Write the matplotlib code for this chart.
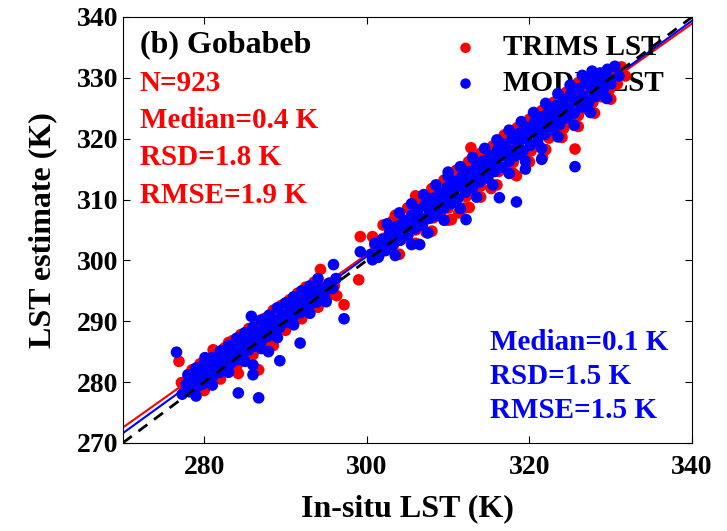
import numpy as np
from matplotlib import pyplot as plt

# Axis setup
x_ticks = [280, 300, 320, 340]
y_ticks = [270, 280, 290, 300, 310, 320, 330, 340]

# TRIMS LST points (in-situ, estimate)
trims_low = [
    (277.5, 279.5), (278.0, 280.5), (278.3, 279.2), (278.8, 281.0), (279.0, 280.0),
    (279.4, 281.5), (279.8, 280.6), (280.2, 282.3), (280.5, 281.0), (280.9, 282.8),
    (281.3, 281.8), (281.6, 283.5), (282.0, 282.4), (282.3, 284.0), (282.7, 282.9),
    (283.0, 284.8), (283.4, 283.6), (283.8, 285.5), (284.1, 284.2), (284.5, 286.2),
    (284.9, 285.0), (285.2, 286.9), (285.6, 285.8), (286.0, 287.6), (286.3, 286.4),
    (286.7, 288.3), (287.1, 287.1), (287.4, 289.0), (287.8, 287.9), (288.2, 289.7),
    (288.6, 288.6), (289.0, 290.5), (289.4, 289.4), (289.8, 291.3), (290.2, 290.2),
    (290.6, 292.0), (291.0, 291.0), (291.5, 292.8), (292.0, 291.8), (292.5, 293.8),
    (293.0, 292.6), (293.5, 294.6), (294.0, 293.5), (294.5, 295.5), (295.0, 294.6),
    (295.5, 296.3), (296.0, 295.8),
    (278.5, 282.0), (279.5, 283.0), (280.5, 283.8), (281.5, 284.6), (282.5, 285.6),
    (283.5, 286.8), (284.5, 287.8), (285.5, 288.8), (286.5, 289.6), (287.5, 290.5),
    (288.5, 291.8), (289.5, 292.6), (290.5, 293.5), (291.5, 294.6), (292.5, 295.6),
    (293.5, 296.4), (280.0, 278.6), (282.0, 280.5), (284.0, 282.6), (286.0, 284.5),
    (288.0, 286.4), (290.0, 288.5), (292.0, 290.4), (294.0, 292.3), (296.3, 294.2),
    (276.9, 283.4), (277.2, 279.9), (281.1, 285.3), (284.2, 281.4), (286.7, 282.0),
    (294.3, 298.5), (295.5, 294.4), (297.2, 292.7), (299.0, 296.8), (299.2, 303.9),
    (300.7, 303.9), (288.5, 286.0), (283.0, 286.5),
]
trims_high = [
    (301.0, 302.5), (301.5, 300.8), (302.0, 303.6), (302.4, 301.9), (302.9, 304.8),
    (303.3, 302.6), (303.8, 305.9), (304.2, 303.4), (304.7, 306.6), (305.1, 304.3),
    (305.6, 307.8), (306.0, 305.0), (306.4, 308.9), (306.9, 306.1), (307.3, 304.6),
    (307.8, 309.5), (308.2, 307.0), (308.7, 310.6), (309.1, 307.9), (309.6, 311.4),
    (310.0, 308.6), (310.4, 312.3), (310.9, 309.7), (311.3, 307.8), (311.8, 313.1),
    (312.2, 310.5), (312.7, 314.0), (313.1, 311.6), (313.6, 315.0), (314.0, 312.2),
    (314.4, 316.1), (314.9, 313.4), (315.3, 311.8), (315.8, 317.0), (316.2, 314.6),
    (316.7, 318.2), (317.1, 315.2), (317.6, 319.0), (318.0, 316.1), (318.4, 313.9),
    (318.9, 320.0), (319.3, 317.2), (319.8, 321.1), (320.2, 318.0), (320.7, 322.0),
    (321.1, 318.9), (321.6, 316.9), (322.0, 323.0), (322.4, 320.1), (322.9, 324.0),
    (323.3, 320.8), (323.8, 325.0), (324.2, 321.7), (324.7, 326.1), (325.1, 322.9),
    (325.6, 327.0), (326.0, 323.8), (326.5, 328.0), (326.9, 324.9), (327.4, 329.0),
    (327.8, 326.0), (328.3, 330.0), (328.8, 326.9), (329.3, 330.8), (329.8, 328.0),
    (330.3, 331.4), (330.8, 329.0), (331.3, 331.8),
    (302.0, 305.8), (303.5, 307.4), (305.0, 308.6), (306.5, 310.2), (308.0, 311.8),
    (309.5, 313.2), (311.0, 314.8), (312.5, 316.2), (314.0, 317.6), (315.5, 318.8),
    (317.0, 320.4), (318.5, 321.8), (320.0, 323.2), (321.5, 324.6), (323.0, 326.0),
    (324.5, 327.6), (326.0, 329.2), (304.0, 301.0), (306.0, 302.8), (308.0, 304.8),
    (310.0, 306.6), (312.0, 308.6), (314.0, 310.4), (316.0, 312.4), (318.0, 314.3),
    (320.0, 316.2), (322.0, 318.2), (324.0, 320.2), (326.0, 322.0), (328.0, 324.2),
    (330.0, 326.5),
    (303.2, 306.5), (306.0, 310.6), (310.4, 306.7), (312.6, 308.7), (312.8, 318.5),
    (316.9, 320.6), (325.6, 318.3), (331.8, 330.3), (327.7, 325.9),
]

# MODIS LST points
modis_low = [
    (277.3, 278.0), (277.8, 279.6), (278.2, 278.4), (278.6, 280.3), (279.0, 279.1),
    (279.3, 280.9), (279.7, 279.6), (280.0, 281.5), (280.4, 280.3), (280.8, 282.2),
    (281.1, 281.0), (281.5, 282.8), (281.9, 281.6), (282.2, 283.6), (282.6, 282.3),
    (283.0, 284.3), (283.3, 283.1), (283.7, 285.0), (284.1, 283.7), (284.4, 285.8),
    (284.8, 284.5), (285.2, 286.6), (285.5, 285.3), (285.9, 287.2), (286.3, 285.9),
    (286.6, 288.0), (287.0, 286.7), (287.4, 288.7), (287.8, 287.5), (288.1, 289.5),
    (288.5, 288.2), (288.9, 290.2), (289.3, 289.0), (289.7, 291.0), (290.1, 289.8),
    (290.5, 291.7), (290.9, 290.6), (291.3, 292.6), (291.8, 291.4), (292.3, 293.4),
    (292.8, 292.2), (293.3, 294.3), (293.8, 293.1), (294.3, 295.3), (294.8, 294.2),
    (295.3, 296.2), (295.8, 295.4), (296.2, 297.0),
    (278.0, 281.2), (279.0, 282.3), (280.0, 283.0), (281.0, 284.0), (282.0, 285.1),
    (283.0, 286.0), (284.0, 287.2), (285.0, 288.1), (286.0, 289.0), (287.0, 290.2),
    (288.0, 291.0), (289.0, 292.2), (290.0, 293.0), (291.0, 294.0), (292.0, 295.0),
    (293.0, 295.8), (294.0, 297.0), (279.0, 277.7), (281.0, 279.5), (283.0, 281.6),
    (285.0, 283.4), (287.0, 285.5), (289.0, 287.3), (291.0, 289.4), (293.0, 291.3),
    (295.0, 293.2),
    (278.4, 279.9), (279.6, 281.8), (280.6, 282.6), (281.8, 283.2), (282.8, 284.6),
    (283.8, 285.2), (284.8, 286.4), (285.8, 286.2), (286.8, 287.8), (287.8, 289.2),
    (288.8, 289.6), (289.8, 290.6), (290.8, 292.2), (291.8, 293.0), (292.8, 294.6),
    (293.8, 295.0),
    (276.6, 284.9), (280.1, 284.0), (284.2, 278.2), (286.7, 277.4), (289.3, 283.5),
    (286.0, 281.2), (286.0, 282.8), (285.8, 290.8), (291.8, 286.4), (287.9, 285.0),
    (295.9, 299.3), (297.2, 290.4), (299.2, 301.4), (300.7, 300.1),
]
modis_high = [
    (300.5, 301.0), (301.0, 302.8), (301.4, 300.5), (301.9, 303.4), (302.3, 301.6),
    (302.8, 304.6), (303.2, 302.5), (303.7, 305.6), (304.1, 303.3), (304.6, 306.5),
    (305.0, 304.0), (305.5, 307.4), (305.9, 305.2), (306.3, 308.3), (306.8, 305.8),
    (307.2, 309.2), (307.7, 306.9), (308.1, 310.2), (308.6, 307.4), (309.0, 311.0),
    (309.5, 308.6), (309.9, 312.0), (310.3, 309.3), (310.8, 313.0), (311.2, 310.2),
    (311.7, 313.8), (312.1, 311.2), (312.6, 314.6), (313.0, 312.0), (313.5, 315.5),
    (313.9, 312.9), (314.3, 316.3), (314.8, 313.6), (315.2, 317.2), (315.7, 314.6),
    (316.1, 318.2), (316.6, 315.3), (317.0, 319.1), (317.5, 316.3), (317.9, 320.0),
    (318.3, 317.2), (318.8, 320.9), (319.2, 318.0), (319.7, 321.8), (320.1, 318.9),
    (320.6, 322.6), (321.0, 319.6), (321.5, 323.6), (321.9, 320.7), (322.4, 324.5),
    (322.8, 321.5), (323.3, 325.4), (323.7, 322.3), (324.2, 326.4), (324.6, 323.4),
    (325.1, 327.3), (325.5, 324.2), (326.0, 328.2), (326.4, 325.2), (326.9, 329.1),
    (327.3, 326.0), (327.8, 330.0), (328.2, 327.0), (328.7, 330.8), (329.1, 328.0),
    (329.6, 331.4), (330.0, 329.0), (330.5, 331.9), (331.0, 330.3),
    (302.5, 306.0), (304.0, 307.8), (305.5, 309.3), (307.0, 310.8), (308.5, 312.4),
    (310.0, 313.8), (311.5, 315.4), (313.0, 316.9), (314.5, 318.4), (316.0, 319.8),
    (317.5, 321.4), (319.0, 322.8), (320.5, 324.3), (322.0, 325.8), (323.5, 327.4),
    (325.0, 328.8), (326.5, 330.4), (303.5, 300.8), (305.5, 302.6), (307.5, 304.5),
    (309.5, 306.6), (311.5, 308.5), (313.5, 310.4), (315.5, 312.4), (317.5, 314.3),
    (319.5, 316.3), (321.5, 318.4), (323.5, 320.3), (325.5, 322.2), (327.5, 324.3),
    (329.5, 326.6),
    (301.6, 302.2), (302.6, 303.2), (303.6, 304.4), (304.6, 305.4), (305.6, 306.4),
    (306.6, 307.0), (307.6, 308.4), (308.6, 309.2), (309.6, 310.2), (310.6, 311.4),
    (311.6, 312.2), (312.6, 313.0), (313.6, 314.2), (314.6, 315.2), (315.6, 316.0),
    (316.6, 317.2), (317.6, 318.0), (318.6, 319.2), (319.6, 320.0), (320.6, 321.0),
    (321.6, 322.2), (322.6, 323.0), (323.6, 324.0), (324.6, 325.0), (325.6, 326.2),
    (326.6, 327.0), (327.6, 328.2), (328.6, 329.0), (329.6, 330.0),
    (303.2, 305.1), (306.5, 302.6), (312.2, 306.7), (316.3, 310.3), (318.4, 309.6),
    (321.5, 316.6), (325.6, 315.4), (327.7, 331.1), (310.0, 314.5), (319.5, 315.0),
]

# Linear fits (slope, intercept) as drawn in the figure
trims_fit = (0.9486, 16.4)
modis_fit = (0.9686, 10.07)

trims_stats = ['N=923', 'Median=0.4 K', 'RSD=1.8 K', 'RMSE=1.9 K']
modis_stats = ['Median=0.1 K', 'RSD=1.5 K', 'RMSE=1.5 K']

plt.rcParams['font.family'] = ['Liberation Serif', 'DejaVu Serif']
plt.rcParams['font.weight'] = 'bold'

trims = np.array(trims_low + trims_high)
modis = np.array(modis_low + modis_high)

fig = plt.figure(figsize=(7.27, 5.31), dpi=100)
ax = fig.add_axes([0.169, 0.166, 0.783, 0.802])

xx = np.array([270, 340])
ax.plot(xx, trims_fit[0] * xx + trims_fit[1], color='red', lw=1.5, zorder=1)
ax.plot(xx, modis_fit[0] * xx + modis_fit[1], color='blue', lw=1.5, zorder=1)

ax.scatter(trims[:, 0], trims[:, 1], s=70, color='red', edgecolors='none',
           label='TRIMS LST', zorder=2)
ax.scatter(modis[:, 0], modis[:, 1], s=70, color='blue', edgecolors='none',
           label='MODIS LST', zorder=3)

ax.plot(xx, xx, 'k--', lw=2, dashes=(4, 3), zorder=4)

ax.set_xlim(270, 340)
ax.set_ylim(270, 340)
ax.set_xticks(x_ticks)
ax.set_yticks(y_ticks)
ax.tick_params(direction='in', top=True, right=True, labelsize=20, length=5)
ax.tick_params(axis='x', pad=9)
ax.set_xlabel('In-situ LST (K)', fontsize=23, fontweight='bold', labelpad=10)
ax.set_ylabel('LST estimate (K)', fontsize=23, fontweight='bold', labelpad=14)

ax.text(0.03, 0.935, '(b) Gobabeb', transform=ax.transAxes, fontsize=23,
        va='center', color='black')
for i, s in enumerate(trims_stats):
    ax.text(0.03, 0.845 - i * 0.088, s, transform=ax.transAxes, fontsize=21,
            va='center', color='red')
for i, s in enumerate(modis_stats):
    ax.text(0.645, 0.235 - i * 0.079, s, transform=ax.transAxes, fontsize=21,
            va='center', color='blue')

leg = ax.legend(loc='upper left', bbox_to_anchor=(0.52, 1.0), frameon=False,
                fontsize=21, handletextpad=0.3, labelspacing=0.3,
                markerscale=0.9, borderaxespad=0.2)
leg.set_zorder(1.5)

fig.savefig('out.png', dpi=100)
